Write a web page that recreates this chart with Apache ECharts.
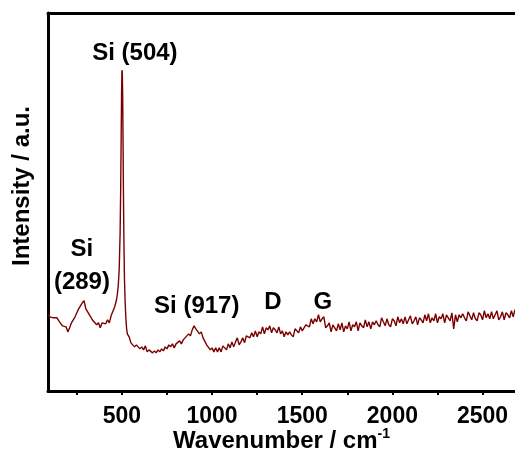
<!DOCTYPE html>
<html>
<head>
<meta charset="utf-8">
<script src="https://cdn.jsdelivr.net/npm/echarts@6/dist/echarts.min.js"></script>
<style>
html, body { margin: 0; padding: 0; background: #fff; overflow: hidden; }
#chart { width: 515px; height: 454px; }
</style>
</head>
<body>
<div id="chart"></div>
<script>
// Raman spectrum, wavenumber in cm-1, intensity in arbitrary units
var wavenumber = [
  90, 100, 110, 120, 130, 140, 150, 160, 170, 180, 190, 200, 210, 220, 230, 240, 250, 260, 270, 280,
  290, 300, 310, 320, 330, 340, 350, 360, 370, 380, 390, 400, 410, 420, 430, 440, 450, 460, 470,
  475, 480, 485, 490, 493, 496, 498, 500, 502, 504, 506, 508, 511, 514, 518, 522, 526, 530,
  540, 550, 560, 570, 580, 590, 600, 610, 620, 630, 640, 650, 660, 670, 680, 690, 700, 710, 720, 730,
  740, 750, 760, 770, 780, 790, 800, 810, 820, 830, 840, 850, 860, 870, 880, 890, 900, 910, 920, 930,
  940, 950, 960, 970, 980, 990, 1000, 1010, 1020, 1030, 1040, 1050, 1060, 1070, 1080, 1090, 1100,
  1110, 1120, 1130, 1140, 1150, 1160, 1170, 1180, 1190, 1200, 1210, 1220, 1230, 1240, 1250, 1260,
  1270, 1280, 1290, 1300, 1310, 1320, 1330, 1340, 1350, 1360, 1370, 1380, 1390, 1400, 1410, 1420,
  1430, 1440, 1450, 1460, 1470, 1480, 1490, 1500, 1510, 1520, 1530, 1540, 1550, 1560, 1570, 1580,
  1590, 1600, 1610, 1620, 1630, 1640, 1650, 1660, 1670, 1680, 1690, 1700, 1710, 1720, 1730, 1740,
  1750, 1760, 1770, 1780, 1790, 1800, 1810, 1820, 1830, 1840, 1850, 1860, 1870, 1880, 1890, 1900,
  1910, 1920, 1930, 1940, 1950, 1960, 1970, 1980, 1990, 2000, 2010, 2020, 2030, 2040, 2050, 2060,
  2070, 2080, 2090, 2100, 2110, 2120, 2130, 2140, 2150, 2160, 2170, 2180, 2190, 2200, 2210, 2220,
  2230, 2240, 2250, 2260, 2270, 2280, 2290, 2300, 2310, 2320, 2330, 2340, 2350, 2360, 2370, 2380,
  2390, 2400, 2410, 2420, 2430, 2440, 2450, 2460, 2470, 2480, 2490, 2500, 2510, 2520, 2530, 2540,
  2550, 2560, 2570, 2580, 2590, 2600, 2610, 2620, 2630, 2640, 2650, 2660, 2670, 2680
];
var intensity = [
  77, 74, 75, 73, 74, 73, 70, 69, 65, 65, 64, 59, 63, 68, 69, 74, 74, 82, 83, 88,
  90, 82, 82, 76, 77, 70, 71, 66, 68, 63, 68, 68, 67, 71, 68, 75, 76, 84, 91,
  97, 106, 122, 158, 200, 255, 295, 320, 318, 296, 255, 205, 150, 112, 88, 72, 62, 57,
  54, 48, 48, 44, 46, 46, 42, 44, 41, 45, 39, 41, 42, 38, 40, 38, 41, 39, 42, 40,
  44, 42, 46, 44, 47, 43, 47, 46, 50, 47, 51, 53, 52, 57, 55, 61, 65, 62, 63, 57,
  59, 53, 53, 46, 46, 41, 43, 39, 43, 39, 43, 39, 45, 44, 41, 47, 43,
  49, 44, 49, 53, 46, 49, 53, 48, 55, 54, 53, 58, 54, 60, 54, 59,
  57, 64, 57, 63, 61, 65, 58, 63, 61, 58, 64, 57, 60, 54, 59, 56,
  59, 56, 54, 62, 60, 58, 64, 60, 59, 66, 66, 64, 72, 67, 72, 69,
  76, 69, 72, 74, 63, 65, 68, 59, 66, 63, 60, 67, 61, 68, 59, 65,
  62, 69, 60, 66, 64, 69, 60, 68, 65, 63, 71, 64, 69, 62, 69, 66,
  70, 66, 64, 73, 69, 65, 72, 66, 64, 72, 70, 65, 74, 68, 72, 67,
  74, 67, 71, 75, 67, 70, 74, 66, 73, 71, 68, 76, 70, 77, 68, 73,
  70, 77, 68, 74, 72, 77, 68, 76, 73, 70, 78, 62, 76, 69, 76, 73,
  77, 73, 70, 79, 75, 71, 78, 72, 70, 78, 76, 71, 80, 73, 77, 72,
  79, 72, 76, 80, 71, 74, 79, 71, 78, 76, 73, 80, 74, 81
];
var majorTicks = [500, 1000, 1500, 2000, 2500];
var allTicks = [250, 500, 750, 1000, 1250, 1500, 1750, 2000, 2250, 2500];
var peakLabels = [
  { text: 'Si (504)', x: 572, y: 337 },
  { text: 'Si\n(289)', x: 278, y: 125 },
  { text: 'Si (917)', x: 915, y: 84 },
  { text: 'D', x: 1337, y: 88 },
  { text: 'G', x: 1614, y: 88 }
];

var spectrum = [];
for (var i = 0; i < wavenumber.length; i++) {
  spectrum.push([wavenumber[i], intensity[i]]);
}

var font = '"Liberation Sans", Arial, sans-serif';
var myChart = echarts.init(document.getElementById('chart'));

myChart.setOption({
  animation: false,
  grid: { left: 48, right: 0, top: 13, bottom: 63, outerBoundsMode: 'none', containLabel: false },
  xAxis: [{
    type: 'value',
    min: 90,
    max: 2680,
    name: 'Wavenumber / cm{sup|-1}',
    nameLocation: 'middle',
    nameGap: 36,
    nameMoveOverlap: false,
    nameTextStyle: {
      color: '#000', fontFamily: font, fontWeight: 'bold', fontSize: 24,
      rich: { sup: { fontFamily: font, fontWeight: 'bold', fontSize: 14, color: '#000', padding: [0, 0, 14, 0] } }
    },
    axisLine: { show: true, onZero: false, lineStyle: { color: '#000', width: 3 } },
    axisTick: { show: true, inside: false, length: 4, customValues: allTicks, lineStyle: { color: '#000', width: 2 } },
    axisLabel: {
      customValues: majorTicks, margin: 14, color: '#000', fontFamily: font, fontWeight: 'bold', fontSize: 23,
      formatter: function (v) { return String(v); }
    },
    splitLine: { show: false }
  }, {
    type: 'value',
    position: 'top',
    min: 90,
    max: 2680,
    axisLine: { show: true, onZero: false, lineStyle: { color: '#000', width: 3 } },
    axisTick: { show: false },
    axisLabel: { show: false },
    splitLine: { show: false }
  }],
  yAxis: {
    type: 'value',
    min: 0,
    max: 377,
    name: 'Intensity / a.u.',
    nameLocation: 'middle',
    nameRotate: 90,
    nameGap: 14,
    nameTextStyle: { color: '#000', fontFamily: font, fontWeight: 'bold', fontSize: 24, padding: [0, 0, 0, 32] },
    axisLine: { show: true, onZero: false, lineStyle: { color: '#000', width: 3 } },
    axisTick: { show: false },
    axisLabel: { show: false },
    splitLine: { show: false }
  },
  series: [{
    type: 'line',
    data: spectrum,
    symbol: 'none',
    lineStyle: { color: '#7a0000', width: 1.4 },
    markPoint: {
      symbolSize: 0,
      silent: true,
      label: { show: true, position: 'inside', color: '#000', fontFamily: font, fontWeight: 'bold', fontSize: 24, lineHeight: 33 },
      data: peakLabels.map(function (p) {
        return { coord: [p.x, p.y], value: p.text };
      })
    }
  }]
});
</script>
</body>
</html>
